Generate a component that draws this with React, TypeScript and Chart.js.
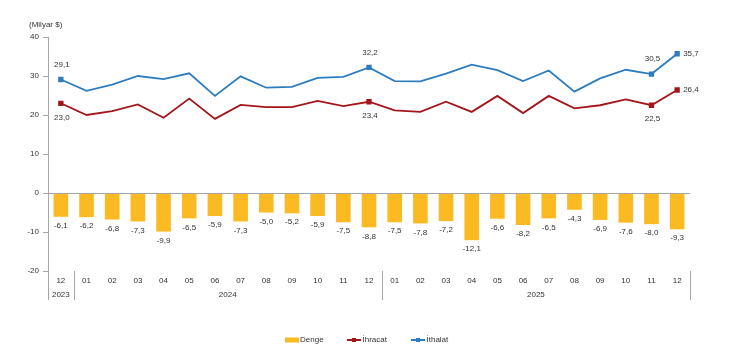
import React, { useEffect, useRef } from "react";
import { Chart, registerables } from "chart.js";

Chart.register(...registerables);

const months = ["12","01","02","03","04","05","06","07","08","09","10","11","12","01","02","03","04","05","06","07","08","09","10","11","12"];
const years = [
  { label: "2023", from: 0, to: 0 },
  { label: "2024", from: 1, to: 12 },
  { label: "2025", from: 13, to: 24 },
];
const denge = [-6.1,-6.2,-6.8,-7.3,-9.9,-6.5,-5.9,-7.3,-5.0,-5.2,-5.9,-7.5,-8.8,-7.5,-7.8,-7.2,-12.1,-6.6,-8.2,-6.5,-4.3,-6.9,-7.6,-8.0,-9.3];
const ihracat = [23.0,20.0,21.0,22.7,19.3,24.2,19.0,22.6,22.0,22.0,23.6,22.3,23.4,21.2,20.8,23.4,20.8,24.9,20.5,24.9,21.7,22.5,24.0,22.5,26.4];
const ithalat = [29.1,26.2,27.8,30.0,29.2,30.7,24.9,29.9,27.0,27.2,29.5,29.8,32.2,28.7,28.6,30.6,32.9,31.5,28.7,31.4,26.0,29.4,31.6,30.5,35.7];
const labeledPoints = [0, 12, 23, 24];

const YELLOW = "#FBBA22";
const RED = "#A3161B";
const BLUE = "#2E7CC0";
const TEXT = "#333333";
const GREY = "#A6A6A6";
const FONT = "8px 'Liberation Sans', Arial, sans-serif";

const fmt = (v: number) => v.toFixed(1).replace(".", ",");

const customPlugin = {
  id: "custom",
  afterDraw(chart: any) {
    const ctx = chart.ctx as CanvasRenderingContext2D;
    const x = chart.scales.x;
    const y = chart.scales.y;
    const area = chart.chartArea;
    ctx.save();
    // zero line
    const y0 = Math.round(y.getPixelForValue(0)) + 0.5;
    ctx.strokeStyle = GREY;
    ctx.lineWidth = 1;
    ctx.beginPath();
    ctx.moveTo(area.left, y0);
    ctx.lineTo(area.right, y0);
    ctx.stroke();

    // separators
    const half = (x.getPixelForValue(1) - x.getPixelForValue(0)) / 2;
    const seps = [x.getPixelForValue(0) - half, x.getPixelForValue(0) + half, x.getPixelForValue(12) + half, x.getPixelForValue(24) + half];
    seps.forEach((sx) => {
      const px = Math.round(sx) + 0.5;
      ctx.beginPath();
      ctx.moveTo(px, area.bottom);
      ctx.lineTo(px, area.bottom + 29);
      ctx.stroke();
    });

    ctx.font = FONT;
    ctx.fillStyle = TEXT;
    ctx.textAlign = "center";
    ctx.textBaseline = "middle";
    // year labels
    years.forEach((yr) => {
      const cx = (x.getPixelForValue(yr.from) + x.getPixelForValue(yr.to)) / 2;
      ctx.fillText(yr.label, cx, area.bottom + 24);
    });

    // unit title
    ctx.textAlign = "left";
    ctx.fillText("(Milyar $)", 29, 25);

    // bar labels
    ctx.textAlign = "center";
    const barMeta = chart.getDatasetMeta(0);
    barMeta.data.forEach((el: any, i: number) => {
      ctx.fillText(fmt(denge[i]), el.x, el.y + 9);
    });

    // line labels
    const m1 = chart.getDatasetMeta(1);
    const m2 = chart.getDatasetMeta(2);
    labeledPoints.forEach((i) => {
      const pR = m1.data[i];
      const pB = m2.data[i];
      if (i === 24) {
        ctx.textAlign = "left";
        ctx.fillText(fmt(ithalat[i]), pB.x + 6, pB.y);
        ctx.fillText(fmt(ihracat[i]), pR.x + 6, pR.y);
      } else {
        ctx.textAlign = "center";
        ctx.fillText(fmt(ithalat[i]), pB.x + 1, pB.y - 15);
        ctx.fillText(fmt(ihracat[i]), pR.x + 1, pR.y + 14);
      }
    });

    // legend
    const ly = 340;
    ctx.fillStyle = YELLOW;
    ctx.fillRect(285, ly - 2.5, 14, 5);
    ctx.fillStyle = TEXT;
    ctx.textAlign = "left";
    ctx.fillText("Denge", 300, ly);

    const drawLineLegend = (x0: number, color: string, text: string) => {
      ctx.strokeStyle = color;
      ctx.lineWidth = 2;
      ctx.beginPath();
      ctx.moveTo(x0, ly);
      ctx.lineTo(x0 + 14, ly);
      ctx.stroke();
      ctx.fillStyle = color;
      ctx.fillRect(x0 + 5, ly - 2, 4, 4);
      ctx.fillStyle = TEXT;
      ctx.fillText(text, x0 + 15.5, ly);
    };
    drawLineLegend(347, RED, "İhracat");
    drawLineLegend(411, BLUE, "İthalat");
    ctx.restore();
  },
};

export default function App() {
  const ref = useRef<HTMLCanvasElement | null>(null);
  useEffect(() => {
    document.body.style.margin = "0";
    if (!ref.current) return;
    const radius = (arr: number[]) => arr.map((_, i) => (labeledPoints.includes(i) ? 2.5 : 0));
    const chart = new Chart(ref.current, {
      type: "bar",
      data: {
        labels: months,
        datasets: [
          {
            type: "bar",
            label: "Denge",
            data: denge,
            backgroundColor: YELLOW,
            borderWidth: 0,
            categoryPercentage: 1,
            barPercentage: 0.57,
            order: 3,
          },
          {
            type: "line",
            label: "İhracat",
            data: ihracat,
            borderColor: RED,
            backgroundColor: RED,
            borderWidth: 1.8,
            pointStyle: "rect",
            pointRadius: radius(ihracat),
            pointHoverRadius: 0,
            tension: 0,
            order: 2,
          } as any,
          {
            type: "line",
            label: "İthalat",
            data: ithalat,
            borderColor: BLUE,
            backgroundColor: BLUE,
            borderWidth: 1.8,
            pointStyle: "rect",
            pointRadius: radius(ithalat),
            pointHoverRadius: 0,
            tension: 0,
            order: 1,
          } as any,
        ],
      },
      options: {
        responsive: false,
        animation: false,
        events: [],
        layout: { padding: { top: 37, right: 40, left: 0, bottom: 0 } },
        plugins: { legend: { display: false }, tooltip: { enabled: false } },
        scales: {
          x: {
            grid: { display: false, drawTicks: false },
            border: { display: false },
            ticks: {
              color: TEXT,
              font: { family: "'Liberation Sans', Arial, sans-serif", size: 8 },
              padding: 5,
              maxRotation: 0,
              autoSkip: false,
            },
            afterFit: (s: any) => { s.height = 80; },
          },
          y: {
            min: -20,
            max: 40,
            grid: { drawOnChartArea: false, drawTicks: true, tickLength: 5, color: GREY },
            border: { display: true, color: GREY, width: 1 },
            ticks: {
              stepSize: 10,
              color: TEXT,
              padding: 4,
              font: { family: "'Liberation Sans', Arial, sans-serif", size: 8 },
            },
            afterFit: (s: any) => { s.width = 48; },
          },
        },
      },
      plugins: [customPlugin],
    });
    return () => chart.destroy();
  }, []);
  return (
    <div style={{ position: "fixed", left: 0, top: 0, width: 730, height: 351, background: "#fff" }}>
      <canvas ref={ref} width={730} height={351} style={{ width: 730, height: 351, display: "block" }} />
    </div>
  );
}
